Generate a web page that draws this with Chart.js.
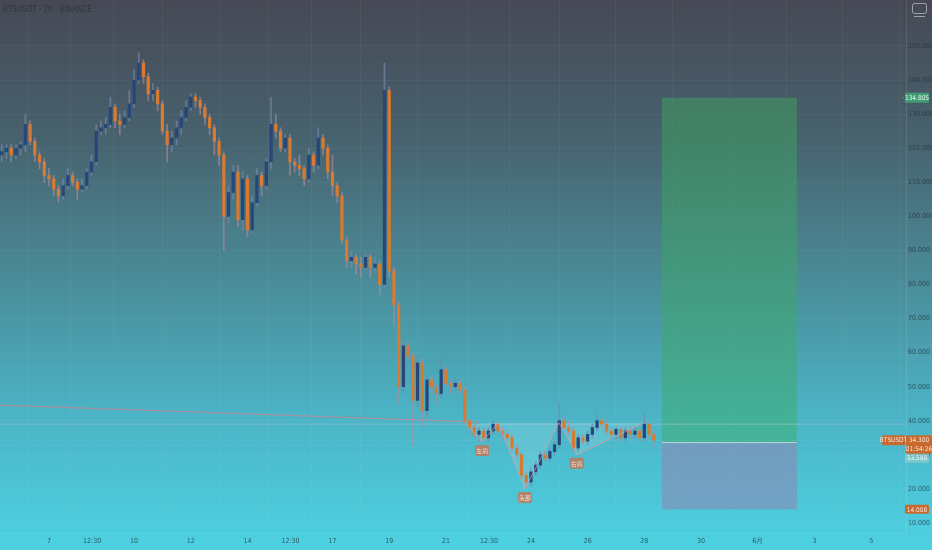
<!DOCTYPE html>
<html>
<head>
<meta charset="utf-8">
<script src="https://cdn.jsdelivr.net/npm/chart.js@4.4.1/dist/chart.umd.min.js"></script>
<style>
html, body { margin: 0; padding: 0; }
body {
    width: 932px; height: 550px; overflow: hidden;
    background: linear-gradient(to bottom, #464955 0%, #47626e 25%, #4a8a97 50%, #4bb3c5 75%, #4dd2e2 100%);
}
</style>
</head>
<body>
<canvas id="chart" width="932" height="550"></canvas>
<script>
// 4h candles, BTSUSDT, from May 5 08:00
const opens = [118,119,120,118,120,121,127,122,118,116,112,111,108,106,109,112,110,108,109,113,
    116,125,126,127,132,128,127,129,133,140,145,141,136,137,133,125,121,123,126,129,
    132,135,134,132,129,126,122,118,100,107,113,99,111,96,104,112,109,116,127,125,
    120,123,116,115,114,111,118,115,123,120,113,109,106,93,87,88,86,85,88,85,
    86,80,137,84,74,50,62,59,46,57,43,52,50,48,55,51,50,51,49,40,
    38,36,37,35,37,39,37,36,35,32,30,24,22,25,27,30,29,31,33,40,
    38,37,32,35,34,36,38,40,39,37,36,37.5,35,37,36,37,35,39,36];
const highs = [121,121,121,121,122,130,128,123,119,117,114,112,109,111,114,113,111,111,114,118,
    127,128,129,135,133,130,131,137,143,148,146,142,139,138,134,127,125,128,131,134,
    136,136,135,133,130,127,123,119,109,115,115,113,112,106,114,113,117,135,130,126,
    124,124,117,118,115,120,119,126,124,121,118,110,107,94,90,89,88,89,89,88,
    87,145,138,85,75,64,63,60,59,58,53,53,51,59,56,52,52,52,50,41,
    39,38,38,38,40,40,38,37,36,33,31,25,26,28,31,31,32,34,45,41,
    40,38,36,36,37,39,42,41,40,38,38,38,38,38,38,38,42,40,37];
const lows = [116,117,116,117,118,119,121,116,114,110,109,106,104,105,108,109,105,107,108,112,
    115,124,124,126,126,124,126,128,132,139,139,134,134,131,124,116,119,121,124,128,
    131,132,130,127,124,118,115,90,98,105,97,96,94,95,103,106,108,114,123,119,
    119,112,113,112,109,110,113,114,118,111,106,104,92,85,85,83,82,84,82,84,
    77,79,82,68,45,48,58,32.5,44,38.5,41,48,45,47,50,48,49,48,39,36,
    35,34,34,34,36,36,35,34,31,29,23,20.5,20.8,24,26,28,28,30,32,37,
    36,31,31,33,33,35,37,38,36,35,35,34,34,35,35,34,34,35,32];
const closes = [119,120,118,120,121,127,122,118,116,112,111,108,106,109,112,110,108,109,113,116,
    125,126,127,132,128,127,129,133,140,145,141,136,137,133,125,121,123,126,129,132,
    135,134,132,129,126,122,118,100,107,113,99,111,96,104,112,109,116,127,125,120,
    123,116,115,114,111,118,115,123,120,113,109,106,93,87,88,86,85,88,85,86,
    80,137,84,74,50,62,59,46,57,43,52,50,48,55,51,50,51,49,40,38,
    36,37,35,37,39,37,36,35,32,30,24,22,25,27,30,29,31,33,40,38,
    37,32,35,34,36,38,40,39,37,36,37.5,35,37,36,37,35,39,36,34.3];

const startDay = 5 + 8 / 24;   // day-of-May of first candle
const candleStep = 4 / 24;     // 4h
const candleTimes = opens.map((_, i) => startDay + i * candleStep);

const xTickValues = [7, 8.52, 10, 12, 14, 15.52, 17, 19, 21, 22.52, 24, 26, 28, 30, 32, 34, 36];
const xTickLabels = ['7', '12:30', '10', '12', '14', '12:30', '17', '19', '21', '12:30', '24', '26', '28', '30', '6月', '3', '5'];
const yTickValues = [10, 20, 30, 40, 50, 60, 70, 80, 90, 100, 110, 120, 130, 140, 150];

// long position tool
const boxStart = 28.62;
const boxEnd = 33.38;
const targetPrice = 134.805;
const entryPrice = 33.59;
const stopPrice = 14.008;

// inverse head & shoulders drawing
const patternTimes = [21.75, 22.28, 22.84, 23.79, 24.99, 25.62, 27.98];
const patternPrices = [39.0, 33.8, 39.4, 20.0, 39.4, 30.0, 39.4];
const patternLabels = ['左肩', '头部', '右肩'];
const patternLabelIdx = [1, 3, 5];

// other lines
const trendLine = { t0: 5.27, p0: 44.6, t1: 22.2, p1: 39.6 };
const levelLine = 39.0;
const lastPrice = closes[closes.length - 1];

const upColor = '#27467a';
const downColor = '#d77a32';

const axisFont = { family: "'DejaVu Sans Condensed', 'Liberation Sans Narrow', sans-serif", size: 7 };

const roundRect = (ctx, x, y, w, h, r) => {
    ctx.beginPath();
    ctx.moveTo(x + r, y);
    ctx.arcTo(x + w, y, x + w, y + h, r);
    ctx.arcTo(x + w, y + h, x, y + h, r);
    ctx.arcTo(x, y + h, x, y, r);
    ctx.arcTo(x, y, x + w, y, r);
    ctx.closePath();
}

const badge = (ctx, x, yc, w, h, fill, text, color) => {
    ctx.fillStyle = fill;
    roundRect(ctx, x, yc - h / 2, w, h, 1.5);
    ctx.fill();
    ctx.fillStyle = color;
    ctx.font = "6.5px 'DejaVu Sans Condensed', sans-serif";
    ctx.textAlign = 'center';
    ctx.textBaseline = 'middle';
    ctx.fillText(text, x + w / 2, yc + 0.5);
}

const overlay = {
    id: 'overlay',
    beforeDatasetsDraw(chart) {
        const { ctx, chartArea: a, scales: { x, y } } = chart;
        ctx.save();
        ctx.beginPath();
        ctx.rect(a.left, a.top, a.right - a.left, a.bottom - a.top);
        ctx.clip();

        const x0 = x.getPixelForValue(boxStart), x1 = x.getPixelForValue(boxEnd);
        const yT = y.getPixelForValue(targetPrice);
        const yE = y.getPixelForValue(entryPrice);
        const yS = y.getPixelForValue(stopPrice);
        ctx.fillStyle = 'rgba(60,170,95,0.45)';
        ctx.fillRect(x0, yT, x1 - x0, yE - yT);
        ctx.fillStyle = 'rgba(150,125,175,0.5)';
        ctx.fillRect(x0, yE, x1 - x0, yS - yE);
        ctx.strokeStyle = 'rgba(225,230,230,0.75)';
        ctx.lineWidth = 1;
        ctx.beginPath();
        ctx.moveTo(x0, yE); ctx.lineTo(x1, yE);
        ctx.stroke();

        // trend line
        ctx.strokeStyle = 'rgba(195,135,150,0.75)';
        ctx.lineWidth = 1.2;
        ctx.beginPath();
        ctx.moveTo(x.getPixelForValue(trendLine.t0), y.getPixelForValue(trendLine.p0));
        ctx.lineTo(x.getPixelForValue(trendLine.t1), y.getPixelForValue(trendLine.p1));
        ctx.stroke();
        ctx.lineWidth = 1;

        // horizontal level
        const yL = y.getPixelForValue(levelLine);
        ctx.strokeStyle = 'rgba(190,200,210,0.45)';
        ctx.beginPath();
        ctx.moveTo(a.left, yL); ctx.lineTo(a.right, yL);
        ctx.stroke();

        // last price dotted line
        const yP = y.getPixelForValue(lastPrice);
        ctx.strokeStyle = 'rgba(215,225,230,0.3)';
        ctx.setLineDash([1, 2]);
        ctx.beginPath();
        ctx.moveTo(a.left, yP); ctx.lineTo(a.right, yP);
        ctx.stroke();
        ctx.setLineDash([]);

        // pattern fill
        const pts = patternTimes.map((t, i) => [x.getPixelForValue(t), y.getPixelForValue(patternPrices[i])]);
        ctx.fillStyle = 'rgba(185,235,240,0.2)';
        [[0, 1, 2], [2, 3, 4], [4, 5, 6]].forEach(tri => {
            ctx.beginPath();
            ctx.moveTo(pts[tri[0]][0], pts[tri[0]][1]);
            ctx.lineTo(pts[tri[1]][0], pts[tri[1]][1]);
            ctx.lineTo(pts[tri[2]][0], pts[tri[2]][1]);
            ctx.closePath();
            ctx.fill();
        });
        ctx.restore();
    },
    afterDatasetsDraw(chart) {
        const { ctx, scales: { x, y } } = chart;
        ctx.save();
        const pts = patternTimes.map((t, i) => [x.getPixelForValue(t), y.getPixelForValue(patternPrices[i])]);
        ctx.strokeStyle = 'rgba(225,150,160,0.75)';
        ctx.lineWidth = 1;
        ctx.beginPath();
        pts.forEach((p, i) => i ? ctx.lineTo(p[0], p[1]) : ctx.moveTo(p[0], p[1]));
        ctx.stroke();

        patternLabelIdx.forEach((idx, k) => {
            const [px, py] = pts[idx];
            ctx.fillStyle = 'rgba(200,115,85,0.8)';
            roundRect(ctx, px - 7, py + 3, 14, 11, 2);
            ctx.fill();
            ctx.fillStyle = 'rgba(255,235,225,0.85)';
            ctx.font = "6px 'Noto Sans CJK SC', sans-serif";
            ctx.textAlign = 'center';
            ctx.textBaseline = 'middle';
            ctx.fillText(patternLabels[k], px, py + 8.5);
        });
        ctx.restore();
    },
    afterDraw(chart) {
        const { ctx, chartArea: a, scales: { y } } = chart;
        ctx.save();
        const r = a.right;
        const yT = y.getPixelForValue(targetPrice);
        badge(ctx, r - 1, yT, 24, 10, '#3f9f74', '134.805', '#e8f5ee');
        ctx.strokeStyle = '#3f9f74';
        ctx.beginPath();
        ctx.moveTo(r - 4, yT); ctx.lineTo(r - 2, yT);
        ctx.stroke();

        const yP = y.getPixelForValue(lastPrice);
        badge(ctx, r - 24, yP, 23, 10, '#c8692f', 'BTSUSDT', '#f6e3d6');
        badge(ctx, r, yP, 26, 10, '#c8692f', lastPrice.toFixed(3), '#f6e3d6');
        badge(ctx, r, yP + 9, 26, 9, '#c8692f', '01:54:26', '#f6e3d6');
        badge(ctx, r - 1, yP + 18, 24, 9, 'rgba(170,210,200,0.55)', entryPrice.toFixed(3), 'rgba(250,255,255,0.85)');
        badge(ctx, r - 1, y.getPixelForValue(stopPrice), 24, 9, '#c8692f', stopPrice.toFixed(3), '#f6e3d6');

        // title
        ctx.fillStyle = 'rgba(35,38,50,0.55)';
        ctx.font = "8px 'DejaVu Sans Condensed', sans-serif";
        ctx.textAlign = 'left';
        ctx.textBaseline = 'middle';
        ctx.fillText('BTSUSDT · 2h · BINANCE', 3, 10);

        // top-right icon
        ctx.strokeStyle = 'rgba(215,220,230,0.6)';
        ctx.lineWidth = 1;
        roundRect(ctx, 912.5, 3.5, 14, 10, 2);
        ctx.stroke();
        ctx.beginPath();
        ctx.moveTo(914, 16.5); ctx.lineTo(925, 16.5);
        ctx.stroke();
        ctx.restore();
    }
};

const wickColor = (ctx) => closes[ctx.dataIndex] >= opens[ctx.dataIndex] ? 'rgba(120,135,170,0.7)' : 'rgba(175,140,155,0.65)';
const bodyColor = (ctx) => closes[ctx.dataIndex] >= opens[ctx.dataIndex] ? upColor : downColor;

new Chart(document.getElementById('chart'), {
    type: 'bar',
    data: {
        datasets: [
            {
                label: 'wick',
                data: candleTimes.map((t, i) => ({ x: t, y: [lows[i], highs[i]] })),
                backgroundColor: wickColor,
                barThickness: 1,
                grouped: false,
                order: 2
            },
            {
                label: 'body',
                data: candleTimes.map((t, i) => ({ x: t, y: [opens[i], closes[i]] })),
                backgroundColor: bodyColor,
                borderWidth: 0,
                barThickness: 2.6,
                grouped: false,
                order: 1
            }
        ]
    },
    options: {
        responsive: false,
        animation: false,
        devicePixelRatio: 1,
        layout: { padding: 0 },
        plugins: { legend: { display: false }, tooltip: { enabled: false } },
        scales: {
            x: {
                type: 'linear',
                min: 5.272,
                max: 37.23,
                offset: false,
                afterFit: (scale) => { scale.height = 17; scale.paddingLeft = 0; scale.paddingRight = 0; },
                afterBuildTicks: (scale) => { scale.ticks = xTickValues.map(v => ({ value: v })); },
                ticks: {
                    autoSkip: false,
                    maxRotation: 0,
                    padding: 4,
                    color: 'rgba(30,45,55,0.75)',
                    font: axisFont,
                    callback: (value, index) => xTickLabels[index]
                },
                grid: { color: 'rgba(255,255,255,0.04)', tickLength: 0 },
                border: { color: 'rgba(255,255,255,0.08)' }
            },
            y: {
                position: 'right',
                min: 7.06,
                max: 163.5,
                afterFit: (scale) => { scale.width = 26; scale.paddingTop = 0; scale.paddingBottom = 0; },
                afterBuildTicks: (scale) => { scale.ticks = yTickValues.map(v => ({ value: v })); },
                ticks: {
                    padding: 2,
                    color: 'rgba(35,45,60,0.7)',
                    font: axisFont,
                    callback: (value) => value.toFixed(3)
                },
                grid: { color: 'rgba(255,255,255,0.035)', tickLength: 0 },
                border: { color: 'rgba(255,255,255,0.1)' }
            }
        }
    },
    plugins: [overlay]
});
</script>
</body>
</html>
